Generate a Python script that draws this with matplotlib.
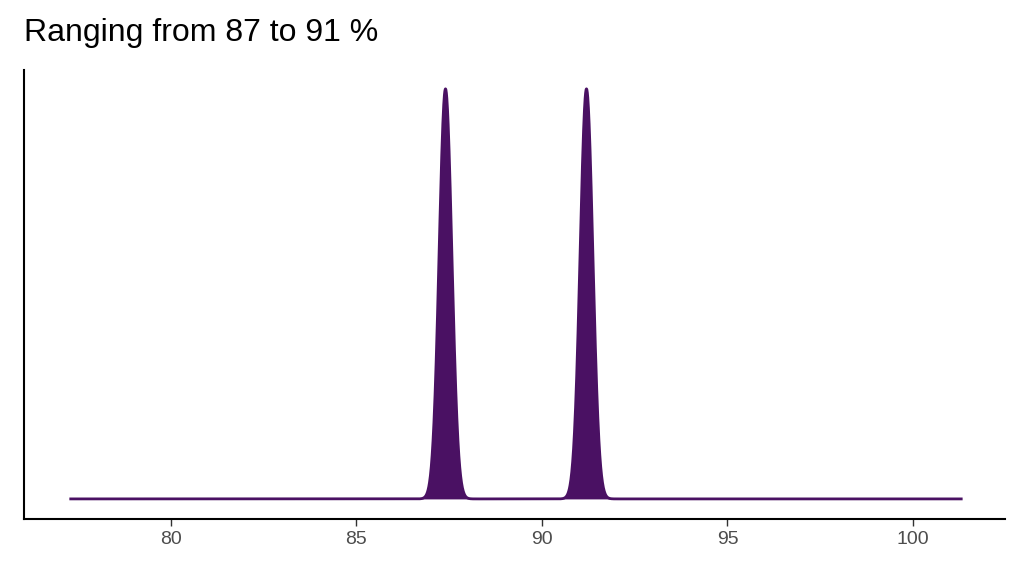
import numpy as np
import matplotlib
matplotlib.use("Agg")
import matplotlib.pyplot as plt

plt.rcParams['font.family'] = ['Liberation Sans', 'DejaVu Sans']

peak_centers = [87.4, 91.2]
peak_sd = 0.17
x_range = [77.3, 101.3]
tick_vals = [80, 85, 90, 95, 100]
title = "Ranging from 87 to 91 %"
color = "#4a1163"

x = np.linspace(x_range[0], x_range[1], 4000)
y = np.zeros_like(x)
for c in peak_centers:
    y += np.exp(-0.5 * ((x - c) / peak_sd) ** 2)
y /= y.max()

fig = plt.figure(figsize=(10.24, 5.76), dpi=100)
ax = fig.add_axes([24/1024, 1-519/576, (1005-24)/1024, (519-70)/576])
ax.fill_between(x, 0, y, color=color, linewidth=0)
ax.plot(x, y, color=color, linewidth=2)
ax.set_xlim(76.04, 102.48)
ax.set_ylim(-0.049, 1.046)
ax.set_yticks([])
ax.set_xticks(tick_vals)
ax.set_xticklabels([str(t) for t in tick_vals], fontsize=14, color="#4d4d4d")
ax.tick_params(axis="x", length=5, width=1, color="#333333")
for s in ["top", "right"]:
    ax.spines[s].set_visible(False)
for s in ["left", "bottom"]:
    ax.spines[s].set_linewidth(1.5)
fig.text(24/1024, 1-33/576, title, fontsize=23, va="center", ha="left")
fig.savefig("out.png", dpi=100)
